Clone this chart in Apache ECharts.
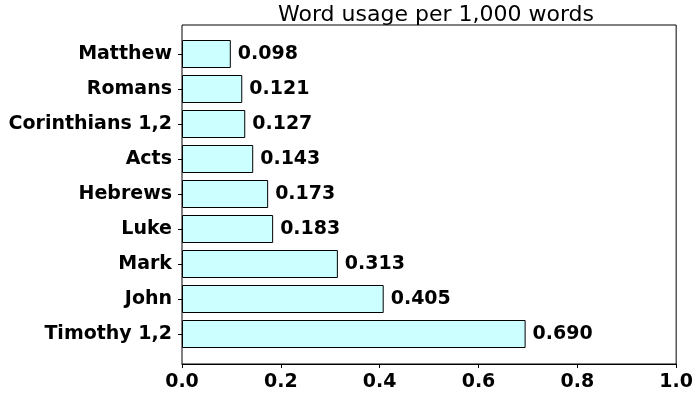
<!DOCTYPE html>
<html>
<head>
<meta charset="utf-8">
<script src="https://cdn.jsdelivr.net/npm/echarts@6/dist/echarts.min.js"></script>
<style>
  html, body { margin: 0; padding: 0; background: #fff; }
  #chart { width: 696px; height: 394px; }
</style>
</head>
<body>
<div id="chart"></div>
<script>
// Books, listed top to bottom
const books = ['Matthew', 'Romans', 'Corinthians 1,2', 'Acts', 'Hebrews', 'Luke', 'Mark', 'John', 'Timothy 1,2'];
// Usage per 1,000 words
const usage = [0.098, 0.121, 0.127, 0.143, 0.173, 0.183, 0.313, 0.405, 0.690];
// Value axis range and tick step
const xMin = 0, xMax = 1.0, xStep = 0.2;

const FONT = 'DejaVu Sans';
const chart = echarts.init(document.getElementById('chart'), null, { renderer: 'canvas' });

chart.setOption({
  animation: false,
  backgroundColor: '#ffffff',
  title: {
    text: 'Word usage per 1,000 words',
    left: 431,
    textAlign: 'center',
    top: -1,
    textStyle: { fontFamily: FONT, fontSize: 22, fontWeight: 'normal', color: '#000' }
  },
  grid: [
    // outer frame holding the value axis
    { left: 182, right: 16, top: 25, bottom: 30, show: true, borderColor: '#000', borderWidth: 1, backgroundColor: 'transparent' },
    // inner band area for the bars
    { left: 182, right: 16, top: 36.5, bottom: 42.5, show: false }
  ],
  xAxis: [
    {
      gridIndex: 0, type: 'value', min: xMin, max: xMax, interval: xStep,
      axisLine: { show: true, lineStyle: { color: '#000', width: 1 } },
      axisTick: { show: true, length: 4, lineStyle: { color: '#000' } },
      splitLine: { show: false },
      axisLabel: {
        margin: 9, color: '#000', fontFamily: FONT, fontSize: 19, fontWeight: 'bold',
        formatter: v => v.toFixed(1)
      }
    },
    {
      gridIndex: 1, type: 'value', min: xMin, max: xMax, show: false
    }
  ],
  yAxis: [
    {
      gridIndex: 0, type: 'value', min: 0, max: 1, show: false
    },
    {
      gridIndex: 1, type: 'category', data: books, inverse: true,
      axisLine: { show: false },
      axisTick: { show: true, length: 4, alignWithLabel: true, lineStyle: { color: '#000' } },
      axisLabel: { margin: 10, color: '#000', fontFamily: FONT, fontSize: 19, fontWeight: 'bold' }
    }
  ],
  series: [{
    type: 'bar',
    xAxisIndex: 1,
    yAxisIndex: 1,
    data: usage,
    barCategoryGap: '20%',
    itemStyle: { color: '#ccffff', borderColor: '#000', borderWidth: 1 },
    label: {
      show: true, position: 'right', distance: 7,
      color: '#000', fontFamily: FONT, fontSize: 19, fontWeight: 'bold',
      formatter: p => p.value.toFixed(3)
    }
  }]
});
</script>
</body>
</html>
